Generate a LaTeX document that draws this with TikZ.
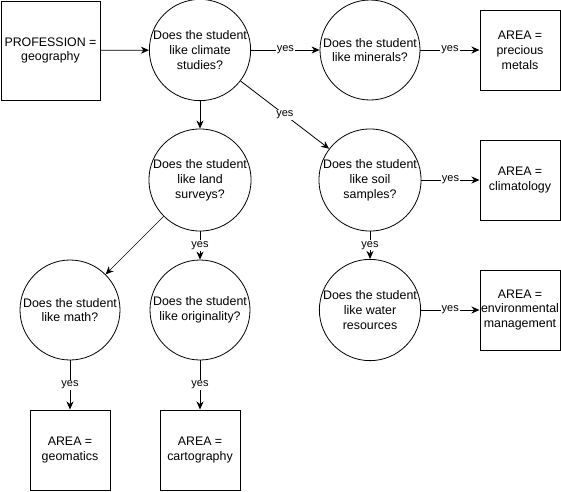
\documentclass[tikz,border=0pt]{standalone}
\usepackage{fontspec}
\setmainfont{Liberation Sans}
\usetikzlibrary{arrows.meta}
\begin{document}
\begin{tikzpicture}[x=1pt,y=-1pt,
  q/.style={circle,draw,line width=0.8pt,minimum size=100pt,inner sep=0pt,align=center,font=\fontsize{12.4}{14.8}\selectfont},
  bx/.style={rectangle,draw,line width=1pt,minimum size=80pt,inner sep=0pt,align=center,font=\fontsize{12.4}{14.8}\selectfont},
  ar/.style={draw,line width=0.8pt,-{Stealth[length=8pt,width=7pt,inset=2.5pt]}},
  lb/.style={fill=white,inner sep=1pt,font=\fontsize{11}{13}\selectfont}]
\useasboundingbox (0,0) rectangle (561,491);
\node[bx,minimum size=99pt] (prof) at (50.5,50.5) {PROFESSION =\\geography};
\node[q] (climate) at (200,50) {Does the student\\like climate\\studies?};
\node[q] (minerals) at (370,50) {Does the student\\like minerals?};
\node[bx] (precious) at (520,50) {AREA =\\precious\\metals};
\node[q] (land) at (200,180) {Does the student\\like land\\surveys?};
\node[q] (soil) at (370,180) {Does the student\\like soil\\samples?};
\node[bx] (clim) at (520,180) {AREA =\\climatology};
\node[q] (math) at (70,310) {Does the student\\like math?};
\node[q] (orig) at (200,310) {Does the student\\like originality?};
\node[q] (water) at (370,310) {Does the student\\like water\\resources};
\node[bx] (env) at (520,310) {AREA =\\environmental\\management};
\node[bx] (geo) at (70,450) {AREA =\\geomatics};
\node[bx] (carto) at (200,450) {AREA =\\cartography};
\draw[ar] (prof) -- (climate);
\draw[ar] (climate) -- node[lb] {yes} (minerals);
\draw[ar] (minerals) -- node[lb] {yes} (precious);
\draw[ar] (climate) -- node[lb] {yes} (soil);
\draw[ar] (climate) -- (land);
\draw[ar,line width=0.6pt] (land) -- (math);
\draw[ar] (land) -- node[lb] {yes} (orig);
\draw[ar] (soil) -- node[lb] {yes} (clim);
\draw[ar] (soil) -- node[lb] {yes} (water);
\draw[ar] (water) -- node[lb] {yes} (env);
\draw[ar] (math) -- node[lb] {yes} (geo);
\draw[ar] (orig) -- node[lb] {yes} (carto);
\end{tikzpicture}
\end{document}
